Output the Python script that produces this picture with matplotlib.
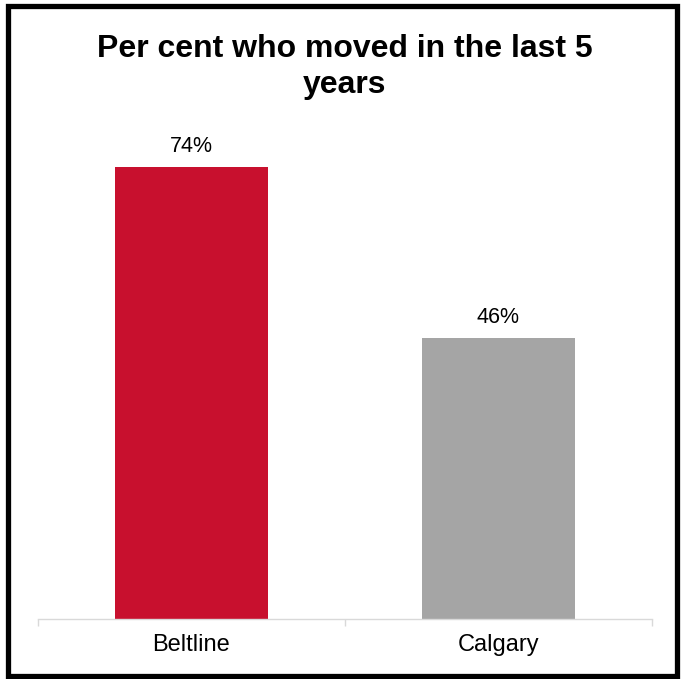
import matplotlib
matplotlib.use("Agg")
import matplotlib.pyplot as plt
from matplotlib.patches import Rectangle

categories = ["Beltline", "Calgary"]
values = [74, 46]
colors = ["#C8102E", "#A5A5A5"]
title_lines = ["Per cent who moved in the last 5", "years"]

plt.rcParams['font.family'] = ['Liberation Sans', 'DejaVu Sans']

W, H = 683, 679
fig = plt.figure(figsize=(W / 100, H / 100), dpi=100)
ax = fig.add_axes([38 / W, 1 - 619 / H, 614 / W, 488.7 / H])
x = list(range(len(categories)))
ax.bar(x, values, width=0.5, color=colors, zorder=2)
for xi, v in zip(x, values):
    ax.annotate(f"{v}%", (xi, v), xytext=(0, 10.8), textcoords="offset points",
                ha="center", va="baseline", fontsize=15.5, color="#000000")
ax.set_xlim(-0.5, 1.5)
ax.set_ylim(0, 80)
ax.set_yticks([])
for s in ["top", "right", "left"]:
    ax.spines[s].set_visible(False)
ax.spines["bottom"].set_color("#D9D9D9")
ax.spines["bottom"].set_linewidth(1.0)
ax.set_xticks([-0.5, 0.5, 1.5])
ax.set_xticklabels([])
ax.set_xticks(x, minor=True)
ax.set_xticklabels(categories, minor=True, fontsize=17)
ax.tick_params(axis="x", which="major", length=5, color="#D9D9D9", width=1.0)
ax.tick_params(axis="x", which="minor", length=0, pad=11)

fig.text(0.505, 1 - 57 / H, title_lines[0], ha="center", va="baseline",
         fontsize=23, fontweight="bold")
fig.text(0.505, 1 - 93 / H, title_lines[1], ha="center", va="baseline",
         fontsize=23, fontweight="bold")

fig.patches.append(Rectangle((8 / W, 3 / H), 669 / W, 670 / H, transform=fig.transFigure,
                             fill=False, edgecolor="black", linewidth=3.8))
fig.savefig("out.png", dpi=100)
